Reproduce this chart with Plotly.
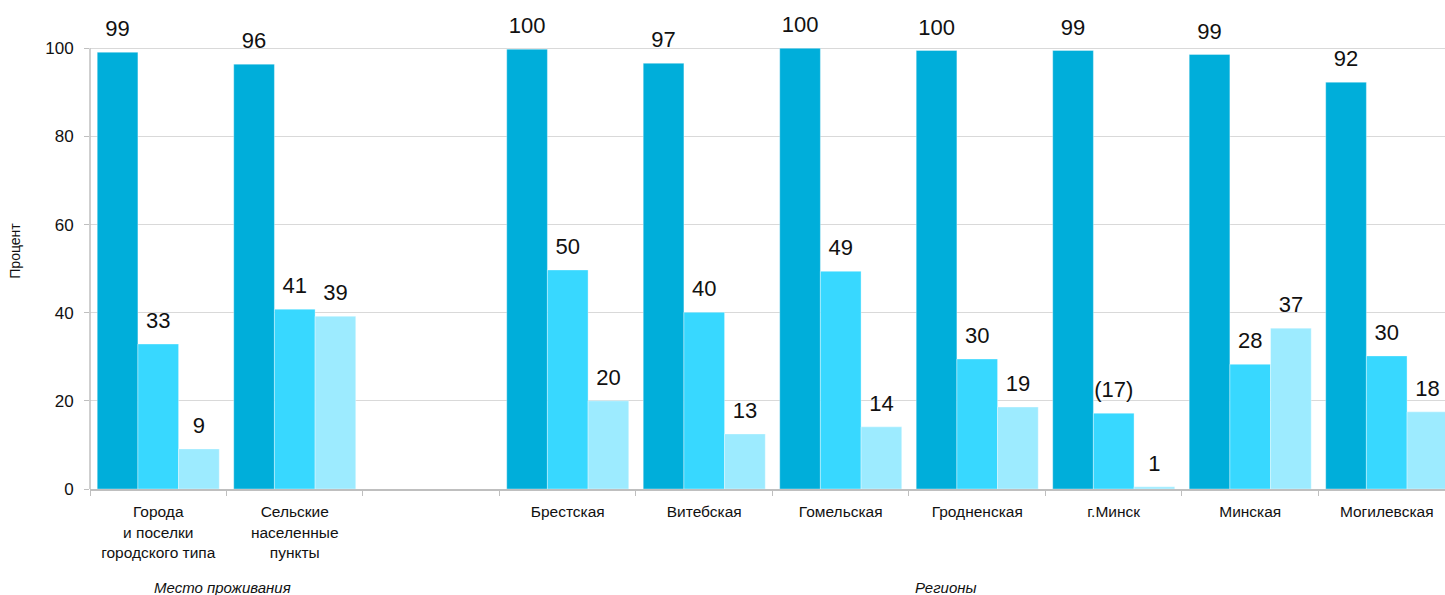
import plotly.graph_objects as go

categories = [
    "Города<br>и поселки<br>городского типа",
    "Сельские<br>населенные<br>пункты",
    " ",
    "Брестская",
    "Витебская",
    "Гомельская",
    "Гродненская",
    "г.Минск",
    "Минская",
    "Могилевская",
]

series1 = [99.1, 96.4, None, 99.8, 96.6, 100.0, 99.5, 99.5, 98.6, 92.3]
series2 = [32.9, 40.8, None, 49.7, 40.1, 49.4, 29.5, 17.2, 28.3, 30.2]
series3 = [9.1, 39.2, None, 20.0, 12.5, 14.1, 18.6, 0.5, 36.5, 17.5]

labels1 = ["99", "96", "", "100", "97", "100", "100", "99", "99", "92"]
labels2 = ["33", "41", "", "50", "40", "49", "30", "(17)", "28", "30"]
labels3 = ["9", "39", "", "20", "13", "14", "19", "1", "37", "18"]

y_ticks = [0, 20, 40, 60, 80, 100]

colors = ["#00AEDA", "#38D8FF", "#9DEBFF"]
FONT = "Liberation Sans"
LABEL_PAD = 1.8
Y_TOP = 108  # headroom above 100 so the labels stay inside the plot

fig = go.Figure()

all_series = [series1, series2, series3]
all_labels = [labels1, labels2, labels3]

for i, (vals, col) in enumerate(zip(all_series, colors)):
    fig.add_trace(go.Bar(
        x=categories, y=vals, offsetgroup=str(i),
        marker=dict(color=col, line=dict(color="rgba(255,255,255,0.45)", width=0.8)),
        showlegend=False, hoverinfo="skip",
    ))

for i, (vals, labs) in enumerate(zip(all_series, all_labels)):
    fig.add_trace(go.Bar(
        x=categories,
        y=[LABEL_PAD if v is not None else None for v in vals],
        base=vals,
        offsetgroup=str(i),
        marker=dict(color="rgba(0,0,0,0)", line=dict(width=0)),
        text=labs, textposition="outside", cliponaxis=False,
        textfont=dict(family=FONT, size=22, color="#111111"),
        showlegend=False, hoverinfo="skip",
    ))

# y axis line from 0 to 100 only
fig.add_shape(type="line", xref="paper", yref="y", x0=0, x1=0, y0=0, y1=100,
              line=dict(color="#BFBFBF", width=1.5))

fig.add_annotation(text="<i>Место проживания</i>", x=0.47, xref="x",
                   y=-0.228, yref="paper", showarrow=False,
                   font=dict(family=FONT, size=15, color="#111111"))
fig.add_annotation(text="<i>Регионы</i>", x=5.77, xref="x",
                   y=-0.228, yref="paper", showarrow=False,
                   font=dict(family=FONT, size=15, color="#111111"))

plot_h = 441 * Y_TOP / 100.0
top_margin = 489 - plot_h

fig.update_layout(
    width=1445, height=595,
    margin=dict(l=90, r=0, t=top_margin, b=106, autoexpand=False),
    paper_bgcolor="white", plot_bgcolor="white",
    barmode="group", bargap=0.106, bargroupgap=0,
    font=dict(family=FONT, size=15, color="#111111"),
    xaxis=dict(
        type="category", range=[-0.5, 9.427], automargin=False,
        tickson="boundaries", ticks="outside", ticklen=5,
        tickcolor="#BFBFBF", showline=True, linecolor="#BFBFBF", linewidth=1.5,
        showgrid=False, ticklabelstandoff=8,
        tickfont=dict(family=FONT, size=15.5, color="#111111"),
    ),
    yaxis=dict(
        range=[0, Y_TOP], tickvals=y_ticks, ticks="outside", ticklen=5,
        automargin=False, ticklabelstandoff=7,
        tickcolor="#BFBFBF", showline=False,
        gridcolor="#D9D9D9", zeroline=False,
        tickfont=dict(family=FONT, size=17, color="#111111"),
        title=dict(text="Процент", font=dict(family=FONT, size=14, color="#111111"), standoff=21),
    ),
)

fig.write_html("out.html", config={"displayModeBar": False},
               post_script="document.body.style.margin='0';")
